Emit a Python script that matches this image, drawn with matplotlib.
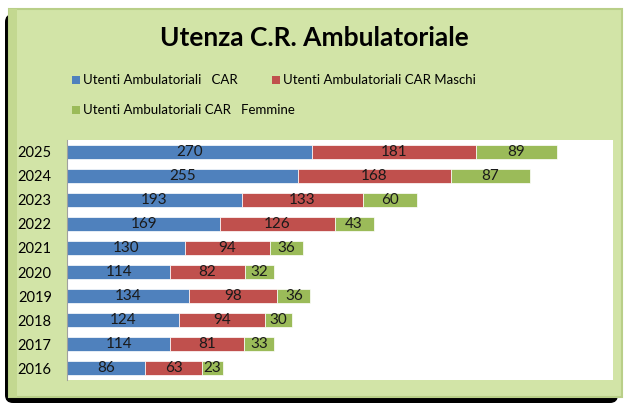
import matplotlib.pyplot as plt
from matplotlib.patches import FancyBboxPatch, Rectangle
import numpy as np

years = ["2016", "2017", "2018", "2019", "2020", "2021", "2022", "2023", "2024", "2025"]
totale = [86, 114, 124, 134, 114, 130, 169, 193, 255, 270]
maschi = [63, 81, 94, 98, 82, 94, 126, 133, 168, 181]
femmine = [23, 33, 30, 36, 32, 36, 43, 60, 87, 89]
series_names = ["Utenti Ambulatoriali   CAR", "Utenti Ambulatoriali CAR Maschi",
                "Utenti Ambulatoriali CAR   Femmine"]
colors = ["#4f81bd", "#c0504d", "#9bbb59"]

plt.rcParams['font.family'] = ['Lato', 'DejaVu Sans']
W, H = 625, 405
fig = plt.figure(figsize=(W/100, H/100), dpi=100)
fig.patch.set_facecolor("white")

# background frame with shadow
bg = fig.add_axes([0, 0, 1, 1])
bg.set_xlim(0, W); bg.set_ylim(H, 0); bg.axis("off")
bg.add_patch(FancyBboxPatch((5, 14), 613, 389, boxstyle="round,pad=0,rounding_size=8",
                            facecolor="black", edgecolor="none"))
bg.add_patch(Rectangle((9, 9), 613, 388, facecolor="#d2e4a7", edgecolor="#b9cf88", lw=1.5))
bg.add_patch(Rectangle((9, 9), 8, 388, facecolor="#c3d890", edgecolor="none"))
bg.text(314, 38, "Utenza C.R. Ambulatoriale", ha="center", va="center",
        fontsize=19, fontweight="bold", color="black")
leg_items = [(72, 80), (272, 80), (72, 110)]
for (lx, ly), name, c in zip(leg_items, series_names, colors):
    bg.add_patch(Rectangle((lx, ly - 4), 8, 8, facecolor=c, edgecolor="none"))
    bg.text(lx + 11, ly, name, ha="left", va="center", fontsize=9.5, color="black")

# plot area
x0, x1, y0, y1 = 67, 613, 140, 380
ax = fig.add_axes([x0/W, 1 - y1/H, (x1 - x0)/W, (y1 - y0)/H])
ax.set_facecolor("white")
y = np.arange(len(years))
h = 0.55
left = np.zeros(len(years))
for vals, c in zip([totale, maschi, femmine], colors):
    vals = np.array(vals)
    ax.barh(y, vals, left=left, height=h, color=c, edgecolor="white", linewidth=0.5)
    for yi, l, v in zip(y, left, vals):
        ax.text(l + v/2, yi, str(v), ha="center", va="center", fontsize=11, color="#1a1a1a")
    left = left + vals
ax.set_xlim(0, 602)
ax.set_ylim(-0.5, len(years) - 0.5)
ax.set_yticks(y)
ax.set_yticklabels(years, fontsize=10.5)
ax.tick_params(axis="y", length=0, pad=11)
ax.set_xticks([])
for s in ["top", "right", "bottom"]:
    ax.spines[s].set_visible(False)
ax.spines["left"].set_color("#a0a0a0")
ax.spines["left"].set_linewidth(0.8)

fig.savefig("out.png", dpi=100)
